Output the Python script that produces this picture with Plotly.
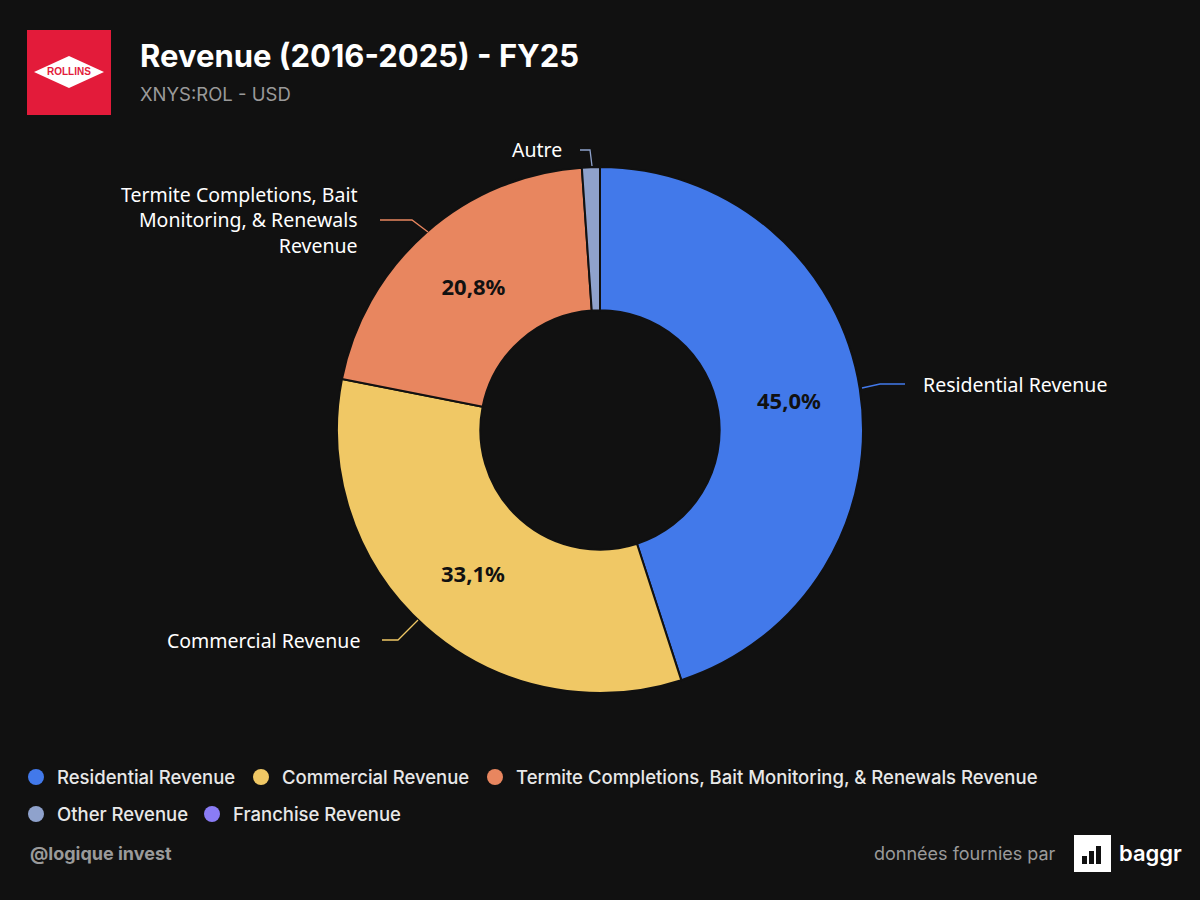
import plotly.graph_objects as go

categories = ["Residential Revenue", "Commercial Revenue",
              "Termite Completions, Bait Monitoring, & Renewals Revenue",
              "Other Revenue", "Franchise Revenue"]
shares = [45.0, 33.1, 20.8, 1.1, 0.0]
colors = ["#4279ea", "#f0c865", "#e8865f", "#8fa2cc", "#8a7cf5"]
outside_labels = ["Residential Revenue", "Commercial Revenue",
                  "Termite Completions, Bait<br>Monitoring, & Renewals<br>Revenue", "Autre", ""]

W, H = 1200, 900
def px(x): return x / W
def py(y): return 1 - y / H

texts = [(f"{v:.1f}".replace(".", ",") + "%") if v >= 5 else "" for v in shares]

fig = go.Figure(go.Pie(
    labels=categories, values=shares, text=texts, textinfo="text",
    textposition="inside", insidetextorientation="horizontal",
    textfont=dict(family="Noto Sans", size=22, color="#111111", weight="bold"),
    marker=dict(colors=colors, line=dict(color="#111111", width=2)),
    hole=0.455, sort=False, direction="clockwise", rotation=0,
    domain=dict(x=[px(337), px(863)], y=[py(693), py(167)]),
    showlegend=False, hoverinfo="label+percent"))

shapes, ann = [], []
lines = [
    ([(862, 388), (880, 384), (905, 384)], colors[0]),
    ([(418, 620), (398, 640), (382, 640)], colors[1]),
    ([(428, 232), (412, 220), (380, 220)], colors[2]),
    ([(592, 166), (590, 150), (580, 150)], colors[3]),
]
for pts, c in lines:
    path = "M " + " L ".join(f"{px(x)},{py(y)}" for x, y in pts)
    shapes.append(dict(type="path", xref="paper", yref="paper", path=path,
                       line=dict(color=c, width=1.3)))
lab_pos = [(921, 384, "left"), (362, 640, "right"), (360, 220, "right"), (564, 150, "right")]
for (x, y, al), t in zip(lab_pos, outside_labels):
    ann.append(dict(x=px(x), y=py(y), xref="paper", yref="paper", text=t, showarrow=False,
                    xanchor=al, yanchor="middle", align=al,
                    font=dict(family="Noto Sans", size=19.5, color="#ffffff")))

shapes.append(dict(type="rect", xref="paper", yref="paper", x0=px(27), x1=px(111), y0=py(115), y1=py(30),
                   fillcolor="#e31b3a", line=dict(width=0), layer="below"))
shapes.append(dict(type="path", xref="paper", yref="paper", layer="below",
                   path=f"M {px(34)},{py(72)} L {px(69)},{py(56)} L {px(104)},{py(72)} L {px(69)},{py(88)} Z",
                   fillcolor="#ffffff", line=dict(width=0)))
ann.append(dict(x=px(69), y=py(72), xref="paper", yref="paper", text="ROLLINS", showarrow=False,
                xanchor="center", yanchor="middle",
                font=dict(family="Liberation Sans", size=10, color="#e31b3a", weight="bold")))
ann.append(dict(x=px(138), y=py(55), xref="paper", yref="paper", text="Revenue (2016-2025) - FY25",
                showarrow=False, xanchor="left", yanchor="middle",
                font=dict(family="Inter", size=31, color="#ffffff", weight="bold")))
ann.append(dict(x=px(138), y=py(94), xref="paper", yref="paper", text="XNYS:ROL - USD",
                showarrow=False, xanchor="left", yanchor="middle",
                font=dict(family="Inter", size=18.5, color="#9a9a9a")))

leg = [(28, 777), (253, 777), (487, 777), (28, 814), (204, 814)]
for (x, y), name, c in zip(leg, categories, colors):
    shapes.append(dict(type="circle", xref="paper", yref="paper", x0=px(x), x1=px(x + 16),
                       y0=py(y + 8), y1=py(y - 8), fillcolor=c, line=dict(width=0)))
    ann.append(dict(x=px(x + 27), y=py(y), xref="paper", yref="paper", text=name, showarrow=False,
                    xanchor="left", yanchor="middle",
                    font=dict(family="Inter", size=18.5, color="#e8e8e8", weight=500)))

ann.append(dict(x=px(28), y=py(853), xref="paper", yref="paper", text="@logique invest", showarrow=False,
                xanchor="left", yanchor="middle", font=dict(family="Inter", size=18, color="#9a9a9a", weight="bold")))
ann.append(dict(x=px(1058), y=py(853), xref="paper", yref="paper", text="données fournies par", showarrow=False,
                xanchor="right", yanchor="middle", font=dict(family="Inter", size=18, color="#9a9a9a")))
shapes.append(dict(type="rect", xref="paper", yref="paper", x0=px(1074), x1=px(1111), y0=py(872), y1=py(835),
                   fillcolor="#ffffff", line=dict(width=0)))
for i, h in enumerate([8, 13, 18]):
    x0 = 1082 + i * 7
    shapes.append(dict(type="rect", xref="paper", yref="paper", x0=px(x0), x1=px(x0 + 5),
                       y0=py(864), y1=py(864 - h), fillcolor="#111111", line=dict(width=0)))
ann.append(dict(x=px(1117), y=py(853), xref="paper", yref="paper", text="baggr", showarrow=False,
                xanchor="left", yanchor="middle", font=dict(family="Inter", size=22, color="#ffffff", weight=600)))

fig.update_layout(width=W, height=H, paper_bgcolor="#111111", plot_bgcolor="#111111",
                  margin=dict(l=0, r=0, t=0, b=0), shapes=shapes, annotations=ann)
fig.write_html("out.html", config={"displayModeBar": False},
               post_script="document.body.style.margin='0';document.body.style.background='#111111';")
